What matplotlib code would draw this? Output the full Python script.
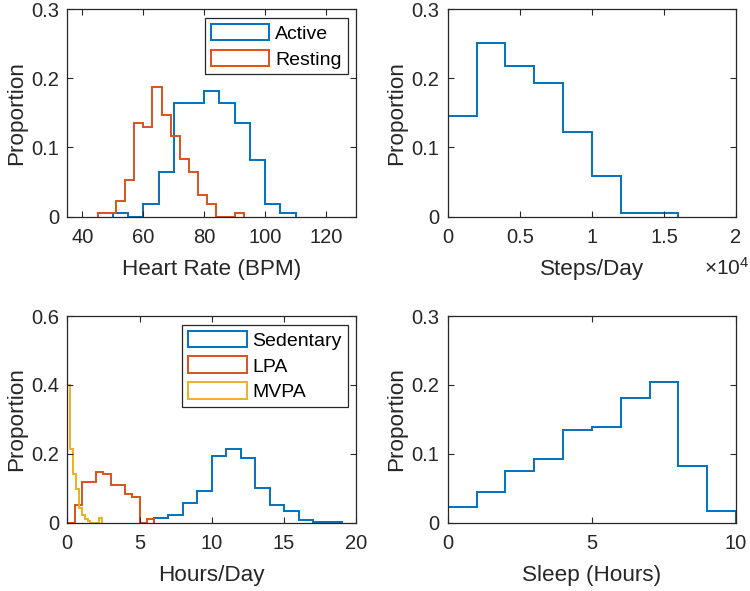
import numpy as np
import matplotlib
matplotlib.use("Agg")
import matplotlib.pyplot as plt
from matplotlib.patches import Patch

plt.rcParams['font.family'] = ['Liberation Sans', 'DejaVu Sans']
plt.rcParams['mathtext.fontset'] = 'custom'
plt.rcParams['mathtext.rm'] = 'Liberation Sans'
plt.rcParams['mathtext.it'] = 'Liberation Sans'

BLUE = '#0072BD'
ORANGE = '#D95319'
YELLOW = '#EDB120'
AXC = '#262626'

# ---- Heart rate ----
active_edges = [50, 55, 60, 65, 70, 75, 80, 85, 90, 95, 100, 105, 110]
active_vals = [0.006, 0.0, 0.018, 0.064, 0.164, 0.164, 0.182, 0.164, 0.135, 0.082, 0.018, 0.006]
resting_edges = [45, 48, 51, 54, 57, 60, 63, 66, 69, 72, 75, 78, 81, 84, 87, 90, 93]
resting_vals = [0.006, 0.006, 0.023, 0.053, 0.135, 0.129, 0.188, 0.147, 0.117, 0.083, 0.064,
                0.031, 0.019, 0.0, 0.0, 0.006]
hr_xticks = [40, 60, 80, 100, 120]
hr_yticks = [0, 0.1, 0.2, 0.3]

# ---- Steps ----
steps_edges = [0, 2000, 4000, 6000, 8000, 10000, 12000, 14000, 16000]
steps_vals = [0.146, 0.251, 0.217, 0.193, 0.122, 0.059, 0.006, 0.006]
steps_xticks = [0, 5000, 10000, 15000, 20000]
steps_xticklabels = ['0', '0.5', '1', '1.5', '2']

# ---- Hours/day ----
sed_edges = [6, 7, 8, 9, 10, 11, 12, 13, 14, 15, 16, 17, 18, 19]
sed_vals = [0.015, 0.022, 0.056, 0.092, 0.194, 0.215, 0.187, 0.100, 0.052, 0.033, 0.008, 0.002, 0.002]
lpa_edges = [0, 0.5, 1, 1.5, 2, 2.5, 3, 3.5, 4, 4.5, 5, 5.5, 6]
lpa_vals = [0.0, 0.051, 0.119, 0.119, 0.148, 0.142, 0.110, 0.110, 0.083, 0.076, 0.0, 0.010]
mvpa_edges = [0, 0.2, 0.4, 0.6, 0.8, 1.0, 1.2, 1.4, 1.6, 1.8, 2.0, 2.2, 2.4]
mvpa_vals = [0.40, 0.215, 0.14, 0.097, 0.044, 0.022, 0.012, 0.004, 0.0, 0.0, 0.0, 0.013]
hd_xticks = [0, 5, 10, 15, 20]
hd_yticks = [0, 0.2, 0.4, 0.6]

# ---- Sleep ----
sleep_edges = [0, 1, 2, 3, 4, 5, 6, 7, 8, 9, 10]
sleep_vals = [0.023, 0.045, 0.075, 0.093, 0.134, 0.139, 0.181, 0.204, 0.082, 0.017]
sleep_xticks = [0, 5, 10]

fig = plt.figure(figsize=(7.5, 5.91), dpi=100)

W = 0.3855
H_top = 0.3514
H_bot = 0.3497
ax1 = fig.add_axes([0.0897, 0.6333, W, H_top])
ax2 = fig.add_axes([0.597, 0.6333, 0.3844, H_top])
ax3 = fig.add_axes([0.0897, 0.1156, W, H_bot])
ax4 = fig.add_axes([0.597, 0.1156, 0.3844, H_bot])

TICK_FS = 14.5
LABEL_FS = 16.2
LEG_FS = 14
LW = 1.4


def style(ax):
    for s in ax.spines.values():
        s.set_color(AXC)
        s.set_linewidth(0.9)
    ax.tick_params(direction='in', top=True, right=True, length=4, width=0.8,
                   colors=AXC, labelsize=TICK_FS)
    ax.tick_params(axis='x', pad=8)
    ax.tick_params(axis='y', pad=6)
    ax.xaxis.labelpad = 9
    ax.yaxis.labelpad = 3


def make_legend(ax, labels, colors):
    handles = [Patch(facecolor='none', edgecolor=c, lw=LW) for c in colors]
    leg = ax.legend(handles, labels, loc='upper right', fontsize=LEG_FS, handlelength=3.0,
                    handleheight=0.95, handletextpad=0.3, borderaxespad=0.45, borderpad=0.3,
                    labelspacing=0.35, fancybox=False, framealpha=1)
    leg.get_frame().set_edgecolor(AXC)
    leg.get_frame().set_linewidth(0.9)
    for t in leg.get_texts():
        t.set_color('black')
    return leg


# Heart rate
ax1.stairs(active_vals, active_edges, baseline=0, color=BLUE, lw=LW)
ax1.stairs(resting_vals, resting_edges, baseline=0, color=ORANGE, lw=LW)
ax1.set_xlim(35, 130)
ax1.set_ylim(0, 0.3)
ax1.set_xticks(hr_xticks)
ax1.set_yticks(hr_yticks)
ax1.set_yticklabels(['0', '0.1', '0.2', '0.3'])
ax1.set_xlabel('Heart Rate (BPM)', fontsize=LABEL_FS, color=AXC)
ax1.set_ylabel('Proportion', fontsize=LABEL_FS, color=AXC)
make_legend(ax1, ['Active', 'Resting'], [BLUE, ORANGE])
style(ax1)

# Steps
ax2.stairs(steps_vals, steps_edges, baseline=0, color=BLUE, lw=LW)
ax2.set_xlim(0, 20000)
ax2.set_ylim(0, 0.3)
ax2.set_xticks(steps_xticks)
ax2.set_xticklabels(steps_xticklabels)
ax2.set_yticks(hr_yticks)
ax2.set_yticklabels(['0', '0.1', '0.2', '0.3'])
ax2.set_xlabel('Steps/Day', fontsize=LABEL_FS, color=AXC)
ax2.set_ylabel('Proportion', fontsize=LABEL_FS, color=AXC)
fig.text(749 / 750, 1 - 268 / 591, r'$\times$10$^{4}$', ha='right', va='center',
         fontsize=15, color=AXC)
style(ax2)

# Hours/day
ax3.stairs(sed_vals, sed_edges, baseline=0, color=BLUE, lw=LW)
ax3.stairs(lpa_vals, lpa_edges, baseline=0, color=ORANGE, lw=LW)
ax3.stairs(mvpa_vals, mvpa_edges, baseline=0, color=YELLOW, lw=LW)
ax3.set_xlim(0, 20)
ax3.set_ylim(0, 0.6)
ax3.set_xticks(hd_xticks)
ax3.set_yticks(hd_yticks)
ax3.set_yticklabels(['0', '0.2', '0.4', '0.6'])
ax3.set_xlabel('Hours/Day', fontsize=LABEL_FS, color=AXC)
ax3.set_ylabel('Proportion', fontsize=LABEL_FS, color=AXC)
make_legend(ax3, ['Sedentary', 'LPA', 'MVPA'], [BLUE, ORANGE, YELLOW])
style(ax3)

# Sleep
ax4.stairs(sleep_vals, sleep_edges, baseline=0, color=BLUE, lw=LW)
ax4.set_xlim(0, 10)
ax4.set_ylim(0, 0.3)
ax4.set_xticks(sleep_xticks)
ax4.set_yticks(hr_yticks)
ax4.set_yticklabels(['0', '0.1', '0.2', '0.3'])
ax4.set_xlabel('Sleep (Hours)', fontsize=LABEL_FS, color=AXC)
ax4.set_ylabel('Proportion', fontsize=LABEL_FS, color=AXC)
style(ax4)

fig.savefig('out.png', dpi=100)
